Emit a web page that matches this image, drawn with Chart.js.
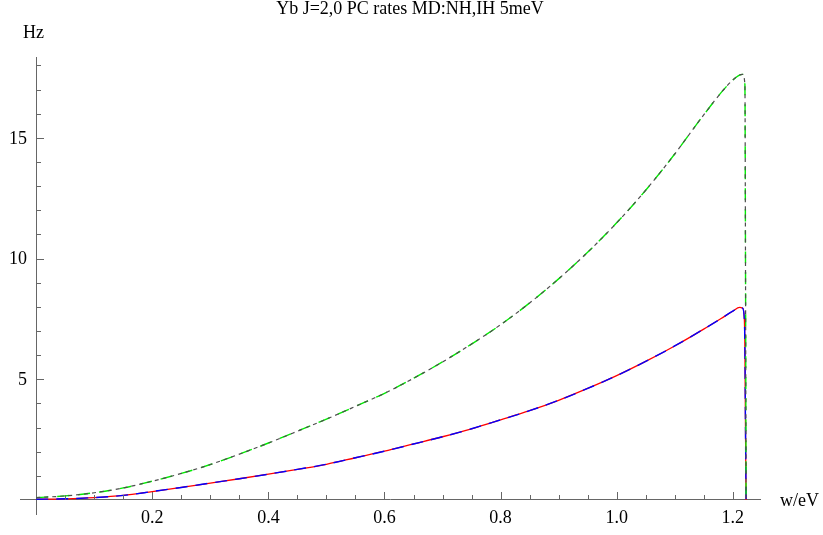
<!DOCTYPE html>
<html>
<head>
<meta charset="utf-8">
<title>Yb J=2,0 PC rates</title>
<script src="https://cdn.jsdelivr.net/npm/chart.js@4/dist/chart.umd.min.js"></script>
<style>
  html, body { margin: 0; padding: 0; background: #fff; }
  #wrap { width: 823px; height: 535px; }
</style>
</head>
<body>
<div id="wrap"><canvas id="ratesChart"></canvas></div>
<script>
// ── data ──
const wIH    = [0, 0.05, 0.1, 0.15, 0.2, 0.25, 0.3, 0.35, 0.4, 0.45, 0.5, 0.55, 0.6, 0.65, 0.7, 0.75,
                0.8, 0.85, 0.9, 0.95, 1.0, 1.05, 1.1, 1.15, 1.19, 1.21, 1.217, 1.221, 1.222, 1.223];
const ihRate = [0.10, 0.17, 0.30, 0.50, 0.78, 1.10, 1.47, 1.90, 2.36, 2.85, 3.35, 3.88, 4.42, 5.04, 5.72, 6.46,
                7.26, 8.16, 9.16, 10.26, 11.48, 12.83, 14.33, 15.95, 17.15, 17.58, 17.63, 17.20, 10.0, 0];

const wNH    = [0, 0.05, 0.1, 0.15, 0.2, 0.25, 0.3, 0.35, 0.4, 0.45, 0.5, 0.55, 0.6, 0.65, 0.7, 0.75,
                0.8, 0.85, 0.9, 0.95, 1.0, 1.05, 1.1, 1.15, 1.18, 1.2, 1.212, 1.217, 1.22, 1.221, 1.222, 1.223];
const nhRate = [0.03, 0.05, 0.10, 0.19, 0.35, 0.52, 0.70, 0.88, 1.07, 1.27, 1.48, 1.75, 2.02, 2.32, 2.62, 2.95,
                3.32, 3.70, 4.13, 4.62, 5.15, 5.74, 6.38, 7.08, 7.52, 7.82, 7.98, 7.95, 7.50, 6.30, 3.00, 0];

const xTickLabels = ['0.2', '0.4', '0.6', '0.8', '1.0', '1.2'];
const yTickLabels = ['5', '10', '15'];

const xMin = -0.028, xMax = 1.247;
const yMin = -0.58,  yMax = 18.35;
const xMinorStep = 0.05, yMinorStep = 1;

const axisColor = '#666';
const serif     = '"Liberation Serif", "Times New Roman", serif';

function pts(xs, ys) {
    return xs.map((x, i) => ({ x, y: ys[i] }));
}

function minorMarks(step, max) {
    const out = [];
    for (let k = 1; k * step <= max + 1e-9; k++) out.push(+(k * step).toFixed(4));
    return out;
}

// tick marks drawn inward like Mathematica, y labels left of the axis, free text
const plotDecor = {
    id: 'plotDecor',
    afterDraw(chart) {
        const { ctx, scales: { x, y } } = chart;
        const x0 = Math.round(x.getPixelForValue(0));
        const y0 = Math.round(y.getPixelForValue(0));

        ctx.save();
        ctx.strokeStyle = axisColor;
        ctx.lineWidth = 1;
        ctx.beginPath();
        x.ticks.forEach(t => {
            const px = Math.round(x.getPixelForValue(t.value)) + 0.5;
            const len = t.label ? 8 : 5;
            ctx.moveTo(px, y0);
            ctx.lineTo(px, y0 - len);
        });
        y.ticks.forEach(t => {
            const py = Math.round(y.getPixelForValue(t.value)) + 0.5;
            const len = yTickLabels.includes(String(t.value)) ? 8 : 5;
            ctx.moveTo(x0, py);
            ctx.lineTo(x0 + len, py);
        });
        ctx.stroke();

        ctx.fillStyle = '#000';
        ctx.font = '18px ' + serif;
        ctx.textAlign = 'right';
        ctx.textBaseline = 'middle';
        yTickLabels.forEach(lbl => {
            ctx.fillText(lbl, x0 - 9, y.getPixelForValue(Number(lbl)) + 1);
        });

        ctx.textBaseline = 'alphabetic';
        ctx.textAlign = 'center';
        ctx.fillText('Yb J=2,0 PC rates MD:NH,IH 5meV', 410, 14);
        ctx.textAlign = 'left';
        ctx.fillText('Hz', 23, 38);
        ctx.fillText('w/eV', 780, 506);
        ctx.restore();
    }
};

document.addEventListener('DOMContentLoaded', function () {

    const ctx = document.getElementById('ratesChart');

    new Chart(ctx, {
        type: 'line',
        data: {
            datasets: [
                {   // IH, gray short dashes on top
                    label: 'IH',
                    data: pts(wIH, ihRate),
                    borderColor: '#4d4d4d',
                    borderWidth: 1.2,
                    borderDash: [4, 4],
                },
                {   // IH, green long dashes
                    label: 'IH (2)',
                    data: pts(wIH, ihRate),
                    borderColor: '#00ee00',
                    borderWidth: 1.4,
                    borderDash: [12, 9],
                },
                {   // NH, blue long dashes
                    label: 'NH (2)',
                    data: pts(wNH, nhRate),
                    borderColor: '#0000ff',
                    borderWidth: 1.4,
                    borderDash: [12, 8],
                },
                {   // NH, red solid
                    label: 'NH',
                    data: pts(wNH, nhRate),
                    borderColor: '#ff0000',
                    borderWidth: 1.3,
                }
            ]
        },
        options: {
            responsive: true,
            maintainAspectRatio: false,
            animation: false,
            layout: { padding: { left: 20, right: 63, top: 57, bottom: 21 } },
            elements: {
                point: { radius: 0 },
                line: { cubicInterpolationMode: 'monotone', fill: false }
            },
            plugins: {
                legend: { display: false },
                tooltip: { enabled: false },
                title: { display: false }
            },
            scales: {
                x: {
                    type: 'linear',
                    min: xMin,
                    max: xMax,
                    position: { y: 0 },
                    afterBuildTicks: s => { s.ticks = minorMarks(xMinorStep, xMax).map(v => ({ value: v })); },
                    grid: { drawOnChartArea: false, drawTicks: false },
                    border: { color: axisColor, width: 1 },
                    ticks: {
                        autoSkip: false,
                        maxRotation: 0,
                        padding: 7,
                        color: '#000',
                        font: { family: serif, size: 18 },
                        callback: v => {
                            const s = Number(v).toFixed(1);
                            return (Math.abs(v * 5 - Math.round(v * 5)) < 1e-6 && xTickLabels.includes(s)) ? s : '';
                        }
                    }
                },
                y: {
                    type: 'linear',
                    min: yMin,
                    max: yMax,
                    position: { x: 0 },
                    afterBuildTicks: s => { s.ticks = minorMarks(yMinorStep, yMax).map(v => ({ value: v })); },
                    grid: { drawOnChartArea: false, drawTicks: false },
                    border: { color: axisColor, width: 1 },
                    // labels are drawn by plotDecor so they can sit clear of the axis
                    ticks: { display: false, autoSkip: false }
                }
            }
        },
        plugins: [plotDecor]
    });

});
</script>
</body>
</html>
